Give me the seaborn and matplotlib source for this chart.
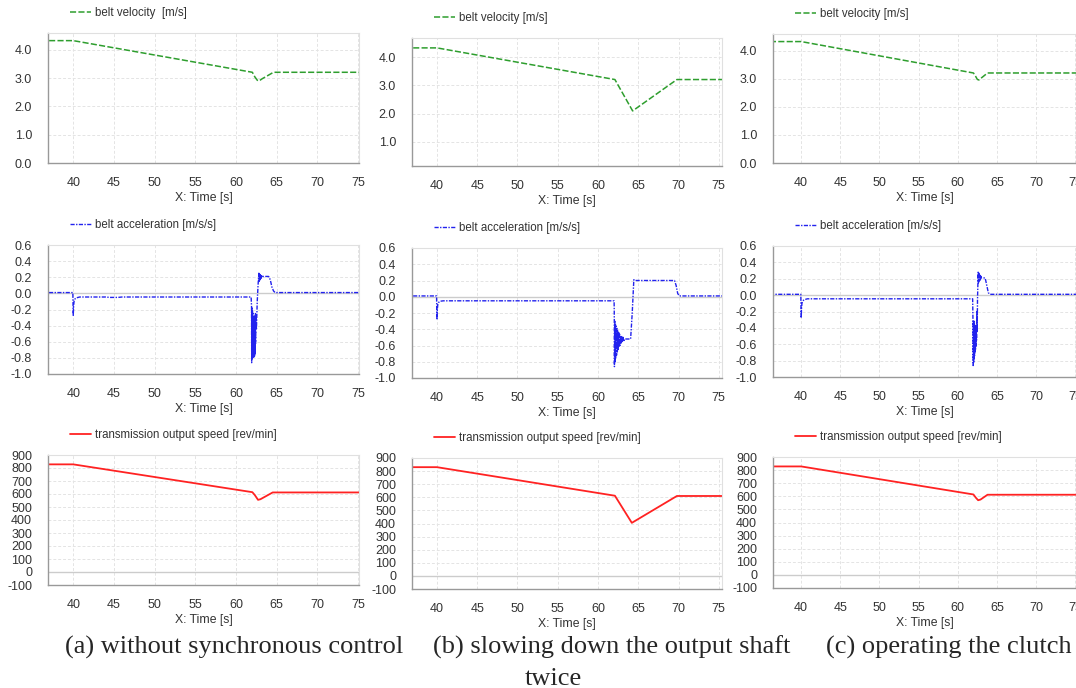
import numpy as np
import matplotlib
matplotlib.use("Agg")
import matplotlib.pyplot as plt
import seaborn as sns
from matplotlib.ticker import MultipleLocator, FuncFormatter

sns.set_style("white")
plt.rcParams['font.family'] = ['Liberation Sans', 'DejaVu Sans']
plt.rcParams['axes.unicode_minus'] = False

# ---- belt velocity [m/s] ----
vel_a_t = [36.0, 40.0, 62.0, 62.3, 62.6, 62.8, 63.2, 64.6, 76.0]
vel_a_v = [4.33, 4.33, 3.21, 3.05, 2.93, 2.90, 2.98, 3.21, 3.21]
vel_b_t = [36.0, 40.0, 62.1, 64.3, 69.8, 76.0]
vel_b_v = [4.33, 4.33, 3.21, 2.10, 3.21, 3.21]
vel_c_t = [36.0, 40.0, 62.0, 62.3, 62.5, 62.7, 63.0, 63.8, 76.0]
vel_c_v = [4.33, 4.33, 3.21, 3.08, 2.98, 2.96, 3.03, 3.21, 3.21]

# ---- belt acceleration [m/s/s] ----
acc_a_t = [36.0, 39.95, 40.0, 40.05, 40.1, 40.2, 40.4, 40.8, 44.0, 44.5, 45.5, 46.0, 61.85,
           61.90, 61.92, 61.94, 61.96, 61.98, 62.00, 62.02, 62.04, 62.06, 62.08, 62.10,
           62.12, 62.14, 62.16, 62.18, 62.20, 62.22, 62.24, 62.26, 62.28, 62.30, 62.32,
           62.34, 62.36, 62.38, 62.40, 62.42,
           62.50, 62.60, 62.70, 62.80, 62.84, 62.88, 62.92, 62.96, 63.00, 63.04, 63.08,
           63.12, 63.16, 63.20, 63.30, 63.50, 64.00, 64.20, 64.40, 64.60, 64.80, 76.0]
acc_a_v = [0.01, 0.01, -0.28, -0.15, -0.10, -0.07, -0.055, -0.045, -0.045, -0.05, -0.05, -0.045, -0.045,
           -0.16, -0.86, -0.18, -0.82, -0.20, -0.80, -0.22, -0.79, -0.25, -0.77, -0.28,
           -0.78, -0.30, -0.80, -0.28, -0.78, -0.30, -0.76, -0.32, -0.78, -0.30, -0.75,
           -0.28, -0.70, -0.25, -0.62, -0.30,
           -0.45, -0.10, 0.10, 0.25, 0.15, 0.24, 0.16, 0.23, 0.18, 0.23, 0.19,
           0.22, 0.20, 0.21, 0.21, 0.21, 0.21, 0.17, 0.08, 0.03, 0.01, 0.01]
acc_b_t = [36.0, 39.95, 40.0, 40.05, 40.1, 40.2, 40.4, 40.8, 62.00,
           62.02, 62.04, 62.08, 62.12, 62.16, 62.20, 62.25, 62.30, 62.35, 62.40, 62.45,
           62.50, 62.56, 62.62, 62.68, 62.74, 62.80, 62.88, 62.96, 63.04, 63.12, 63.20,
           63.30, 64.05, 64.25, 64.45, 64.60, 69.50, 69.70, 69.90, 70.10, 76.0]
acc_b_v = [0.01, 0.01, -0.28, -0.15, -0.10, -0.07, -0.055, -0.05, -0.05,
           -0.20, -0.86, -0.30, -0.80, -0.33, -0.76, -0.36, -0.72, -0.39, -0.68, -0.42,
           -0.65, -0.44, -0.62, -0.46, -0.60, -0.48, -0.58, -0.49, -0.56, -0.50, -0.55,
           -0.52, -0.52, -0.20, 0.21, 0.20, 0.20, 0.14, 0.04, 0.01, 0.01]
acc_c_t = [36.0, 39.95, 40.0, 40.05, 40.1, 40.2, 40.4, 40.8, 61.90,
           61.94, 61.97, 62.00, 62.03, 62.06, 62.09, 62.12, 62.15, 62.18, 62.21, 62.24,
           62.27, 62.30, 62.33, 62.36, 62.40, 62.44, 62.48, 62.52, 62.56, 62.60,
           62.64, 62.68, 62.72, 62.76, 62.80, 62.85, 62.90, 62.95, 63.00, 63.10,
           63.50, 63.70, 63.90, 64.10, 76.0]
acc_c_v = [0.01, 0.01, -0.28, -0.15, -0.10, -0.07, -0.055, -0.045, -0.045,
           -0.30, -0.86, -0.32, -0.82, -0.35, -0.78, -0.32, -0.74, -0.36, -0.70, -0.38,
           -0.66, -0.40, -0.62, -0.42, -0.55, -0.20, -0.45, -0.05, 0.10, 0.28,
           0.15, 0.27, 0.17, 0.25, 0.18, 0.24, 0.19, 0.23, 0.21, 0.21,
           0.21, 0.12, 0.03, 0.01, 0.01]

# ---- transmission output speed [rev/min] ----
spd_a_t = [36.0, 40.0, 62.0, 62.3, 62.7, 63.0, 64.5, 76.0]
spd_a_v = [828, 828, 614, 592, 555, 560, 612, 612]
spd_b_t = [36.0, 40.0, 62.1, 64.2, 69.8, 76.0]
spd_b_v = [830, 830, 612, 405, 610, 610]
spd_c_t = [36.0, 40.0, 62.0, 62.3, 62.6, 62.9, 63.8, 76.0]
spd_c_v = [828, 828, 614, 590, 570, 575, 612, 612]

captions = ["(a) without synchronous control", "(b) slowing down the output shaft", "(c) operating the clutch"]

W, H = 1076, 688
fig = plt.figure(figsize=(W / 100, H / 100), dpi=100)


def add_ax(left, right, top, bottom):
    return fig.add_axes([left / W, 1 - bottom / H, (right - left) / W, (bottom - top) / H])


def one_dec(x, pos):
    x = round(x, 1)
    if abs(x) < 1e-9:
        x = 0.0
    return "%.1f" % x


# pixel boxes per column (left, right) and per row (top, bottom)
cols = [(48, 359, (36.9, 75.1)), (412, 722, (36.9, 75.4)), (773, 1076, (36.4, 75.1))]
rows = [
    [(33, 163), (38, 166), (34, 163)],
    [(245, 374), (248, 378), (246, 377)],
    [(455, 585), (458, 589), (457, 588)],
]

vel = [(vel_a_t, vel_a_v), (vel_b_t, vel_b_v), (vel_c_t, vel_c_v)]
acc = [(acc_a_t, acc_a_v), (acc_b_t, acc_b_v), (acc_c_t, acc_c_v)]
spd = [(spd_a_t, spd_a_v), (spd_b_t, spd_b_v), (spd_c_t, spd_c_v)]

grey = "#333333"
serif = ["Liberation Serif", "DejaVu Serif"]

for j, (left, right, xlim) in enumerate(cols):
    for i in range(3):
        top, bottom = rows[i][j]
        ax = add_ax(left, right, top, bottom)
        if i == 0:
            t, v = vel[j]
            sns.lineplot(x=t, y=v, ax=ax, color="#2e9e2e", lw=1.1, linestyle=(0, (4, 1.5)),
                         label="belt velocity  [m/s]" if j == 0 else "belt velocity [m/s]",
                         estimator=None, sort=False)
            if j == 1:
                ax.set_ylim(0.15, 4.68)
                ax.set_yticks([1.0, 2.0, 3.0, 4.0])
            else:
                ax.set_ylim(0.0, 4.6)
                ax.set_yticks([0.0, 1.0, 2.0, 3.0, 4.0])
            ax.yaxis.set_minor_locator(MultipleLocator(0.2))
            ax.yaxis.set_major_formatter(FuncFormatter(one_dec))
        elif i == 1:
            t, v = acc[j]
            sns.lineplot(x=t, y=v, ax=ax, color="#2222ee", lw=1.0, linestyle=(0, (3, 1, 1, 1)),
                         label="belt acceleration [m/s/s]", estimator=None, sort=False)
            ax.set_ylim(-1.0, 0.6)
            ax.set_yticks(np.round(np.arange(-1.0, 0.61, 0.2), 1))
            ax.yaxis.set_minor_locator(MultipleLocator(0.1))
            ax.yaxis.set_major_formatter(FuncFormatter(one_dec))
            ax.axhline(0, color="#cccccc", lw=1.0, zorder=1)
        else:
            t, v = spd[j]
            sns.lineplot(x=t, y=v, ax=ax, color="#ff2222", lw=1.3,
                         label="transmission output speed [rev/min]", estimator=None, sort=False)
            ax.set_ylim(-100, 900)
            ax.set_yticks(np.arange(-100, 901, 100))
            ax.yaxis.set_minor_locator(MultipleLocator(10))
            ax.axhline(0, color="#cccccc", lw=1.0, zorder=1)

        ax.set_xlim(*xlim)
        ax.set_xticks(np.arange(40, 76, 5))
        ax.xaxis.set_minor_locator(MultipleLocator(1))
        ax.grid(True, which="major", color="#e4e4e4", lw=0.7, linestyle=(0, (3, 2)))
        ax.set_axisbelow(True)
        ax.tick_params(axis="both", which="both", direction="out", width=0.9,
                       color="#888888", labelsize=9, labelcolor=grey)
        ax.tick_params(axis="y", which="major", length=7, pad=4.5)
        ax.tick_params(axis="y", which="minor", length=3.6)
        ax.tick_params(axis="x", which="both", length=3, pad=7)
        for side in ["left", "bottom"]:
            ax.spines[side].set_color("#999999")
            ax.spines[side].set_linewidth(1.0)
        for side in ["top", "right"]:
            ax.spines[side].set_color("#e0e0e0")
            ax.spines[side].set_linewidth(0.8)
        ax.set_xlabel("X: Time [s]", fontsize=8.8, color=grey, labelpad=2.5)
        ax.set_ylabel("")
        hgt = bottom - top
        ax.legend(loc="center left", bbox_to_anchor=(22 / (right - left), 1 + 20 / hgt),
                  frameon=False, fontsize=8.3, handlelength=1.85, handletextpad=0.35,
                  borderpad=0, borderaxespad=0, labelcolor=grey)

fig.text(65 / W, 1 - 654 / H, captions[0], family=serif, fontsize=19, ha="left", va="baseline")
fig.text(433 / W, 1 - 654 / H, captions[1], family=serif, fontsize=19, ha="left", va="baseline")
fig.text(525 / W, 1 - 685 / H, "twice", family=serif, fontsize=19, ha="left", va="baseline")
fig.text(826 / W, 1 - 654 / H, captions[2], family=serif, fontsize=19, ha="left", va="baseline")

fig.savefig("out.png", dpi=100)
